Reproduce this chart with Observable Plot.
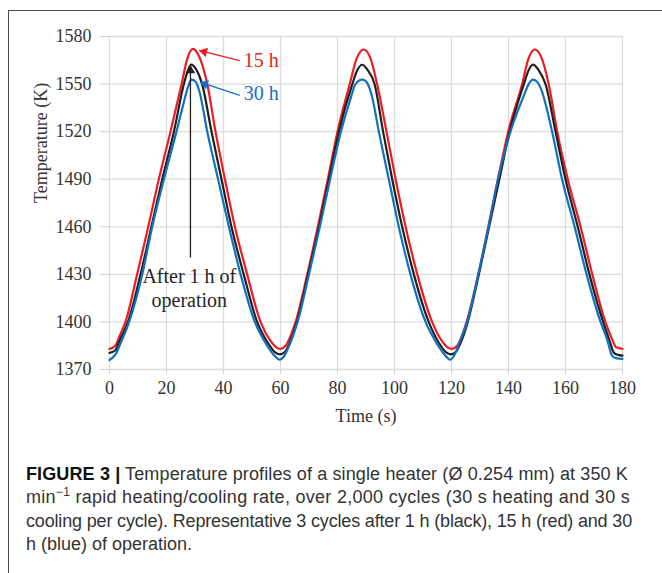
<!DOCTYPE html>
<html>
<head>
<meta charset="utf-8">
<script src="https://cdn.jsdelivr.net/npm/d3@7"></script>
<script src="https://cdn.jsdelivr.net/npm/@observablehq/plot@0.6"></script>
<style>
  html, body { margin: 0; padding: 0; background: #fff; }
  #wrap { position: relative; width: 662px; height: 573px; overflow: hidden; }
  #frame { position: absolute; left: 8px; top: 10px; width: 700px; height: 600px;
           border-top: 1.5px solid #4d4d4d; border-left: 1.5px solid #4d4d4d; }
  #chart { position: absolute; left: 0; top: 0; }
  #cap { position: absolute; left: 26px; top: 463px; font-family: "Liberation Sans", Arial, sans-serif;
         font-size: 18px; line-height: 23.3px; color: #333; white-space: nowrap; }
  #cap .ln { display: block; }
  #cap .ln span.t { display: inline-block; }
  #cap b { color: #111; }
  #cap sup { font-size: 12px; line-height: 0; vertical-align: 7px; }
</style>
</head>
<body>
<div id="wrap">
  <div id="frame"></div>
  <div id="chart"></div>
  <div id="cap">
    <div class="ln"><span class="t"><b>FIGURE 3 |</b> Temperature profiles of a single heater (Ø 0.254 mm) at 350 K</span></div>
    <div class="ln"><span class="t">min<sup>−1</sup> rapid heating/cooling rate, over 2,000 cycles (30 s heating and 30 s</span></div>
    <div class="ln"><span class="t">cooling per cycle). Representative 3 cycles after 1 h (black), 15 h (red) and 30</span></div>
    <div class="ln"><span class="t">h (blue) of operation.</span></div>
  </div>
</div>
<script>
// ---- data (time s, temperature K) ----
const xTicks = [0, 20, 40, 60, 80, 100, 120, 140, 160, 180];
const yTicks = [1370, 1400, 1430, 1460, 1490, 1520, 1550, 1580];

const series1h = [
  [0,1380.5],[2,1382],[3.5,1388],[6.5,1400],[10.9,1430],[14.7,1460],[18.5,1490],[22.6,1520],[26.1,1550],[27.5,1558.5],[28.7,1562.3],[30.5,1559],[32.5,1550],[35.8,1520],[39.3,1490],[42.8,1460],[47.1,1430],[51.8,1400],[55.5,1387],[58,1381],[59.8,1379.6],[61.5,1381],[63.5,1388],
  [65.8,1400],[69.7,1430],[73.5,1460],[77,1490],[80.5,1520],[85.2,1550],[87,1559],[88.7,1562.2],[90.5,1559],[93,1550],[96,1520],[99.2,1490],[102.7,1460],[106.8,1430],[112,1400],[115.5,1387],[118,1381],[119.8,1379.6],[121.5,1381],[123.5,1388],
  [125.7,1400],[129.6,1430],[133.2,1460],[136.8,1490],[140.4,1520],[145.4,1550],[147,1558.5],[148.6,1562.3],[150.5,1559],[153,1550],[156.5,1520],[160,1490],[164.3,1460],[168.4,1430],[173.2,1400],[175.5,1388],[177,1380.5],[178.5,1379.2],[180,1378.8]
];
const series15h = [
  [0,1383],[2,1385],[3.5,1391],[5.6,1400],[9.7,1430],[13.6,1460],[17.3,1490],[21.4,1520],[25.3,1550],[27.3,1566],[29.2,1572.2],[31.3,1568],[34.3,1550],[37.2,1520],[40.5,1490],[44,1460],[48.3,1430],[53,1400],[56.5,1388],[58.5,1384],[60,1383],[61.8,1385],[63.5,1391],
  [65.3,1400],[69.4,1430],[73.1,1460],[76.6,1490],[80,1520],[84.3,1550],[86.7,1566],[89.2,1571.8],[91.4,1567],[93.9,1550],[97.2,1520],[100.4,1490],[103.9,1460],[108,1430],[113.2,1400],[116.6,1388],[118.6,1384],[120.2,1383],[122,1385],[123.6,1391],
  [125.3,1400],[129.4,1430],[132.9,1460],[136.3,1490],[139.9,1520],[144.8,1550],[147,1566],[149.2,1571.8],[151.5,1567],[154.1,1550],[157.1,1520],[160.8,1490],[165.3,1460],[169.4,1430],[174,1400],[176.4,1389],[177.8,1384],[180,1383]
];
const series30h = [
  [0,1376],[2.3,1380],[4,1387],[6.9,1400],[11.5,1430],[15,1460],[19.1,1490],[23.5,1520],[26,1538],[27.7,1549],[28.8,1552.8],[30.2,1551.5],[31.6,1545],[34.3,1520],[38.1,1490],[41.9,1460],[46,1430],[51,1400],[55,1386],[58,1378.5],[59.6,1376.2],[61.3,1378.5],[63.5,1387],
  [66,1400],[70,1430],[73.8,1460],[77.4,1490],[81.2,1520],[84.6,1541],[86.3,1550],[88.7,1552.8],[90.3,1551],[92,1543],[94.5,1520],[98,1490],[101.5,1460],[105.6,1430],[110.9,1400],[115,1386],[118,1378.5],[119.4,1376.2],[121,1379],[123,1388],
  [125.5,1400],[129.4,1430],[133,1460],[136.3,1490],[140.7,1520],[145,1541],[147.1,1550],[148.5,1552.8],[150,1551.5],[151.4,1547],[155.3,1520],[158.8,1490],[163.2,1460],[167.4,1430],[172.3,1400],[174.6,1389],[176.4,1378.5],[178,1377],[180,1376.7]
];

// annotations (data units)
const labelNames = ["15 h", "30 h"];
const labelAt = [[47.1, 1564.8], [47.1, 1543.7]];
const arrowFrom = [[45.7, 1564.8], [45.7, 1542.8], [28.4, 1440.6]];
const arrowTo = [[31.4, 1571.2], [31.7, 1551.2], [28.4, 1562]];
const noteLines = ["After 1 h of", "operation"];
const noteAt = [[28, 1428.6], [28, 1413.5]];

const RED = "#ec1c24", BLACK = "#231f20", BLUE = "#0f72c0";
const SERIF = "'Liberation Serif', 'Times New Roman', serif";

const toRows = (arr) => arr.map(([t, k]) => ({t, k}));
const arrows = arrowFrom.map((f, i) => ({x1: f[0], y1: f[1], x2: arrowTo[i][0], y2: arrowTo[i][1],
  c: [RED, BLUE, BLACK][i]}));
const heads = arrowTo.map(([x, y]) => ({x, y}));

const chart = Plot.plot({
  width: 662,
  height: 440,
  marginLeft: 109,
  marginRight: 40,
  marginTop: 36,
  marginBottom: 71,
  style: {fontFamily: SERIF, background: "transparent", color: "#333"},
  x: {domain: [0, 180]},
  y: {domain: [1370, 1580]},
  marks: [
    Plot.ruleX(xTicks, {stroke: "#dcdcdc", strokeWidth: 1.3}),
    Plot.ruleY(yTicks, {stroke: "#dcdcdc", strokeWidth: 1.3}),
    Plot.axisX({ticks: xTicks, tickSize: 5, stroke: "#d0d0d0", tickFormat: () => "", label: null}),
    Plot.axisY({ticks: yTicks, tickSize: 9, stroke: "#d0d0d0", tickFormat: () => "", label: null}),
    Plot.text(xTicks, {x: d => d, frameAnchor: "bottom", dy: 24, text: d => String(d),
      fontSize: 18, fontFamily: SERIF, fill: "#333"}),
    Plot.text(yTicks, {y: d => d, frameAnchor: "left", dx: -18, textAnchor: "end", text: d => String(d),
      fontSize: 18, fontFamily: SERIF, fill: "#333"}),
    Plot.text(["Time (s)"], {frameAnchor: "bottom", dy: 52, fontSize: 18, fill: "#333"}),
    Plot.text(["Temperature (K)"], {frameAnchor: "left", dx: -68, rotate: -90, fontSize: 18, fill: "#333"}),
    Plot.line(toRows(series15h), {x: "t", y: "k", stroke: RED, strokeWidth: 2.2, curve: "monotone-x"}),
    Plot.line(toRows(series1h), {x: "t", y: "k", stroke: BLACK, strokeWidth: 2.2, curve: "monotone-x"}),
    Plot.line(toRows(series30h), {x: "t", y: "k", stroke: BLUE, strokeWidth: 2.2, curve: "monotone-x"}),
    Plot.link(arrows, {x1: "x1", y1: "y1", x2: "x2", y2: "y2", stroke: "c", strokeWidth: 1.3}),
    Plot.dot(heads.slice(0, 1), {x: "x", y: "y", fill: RED, symbol: "triangle", r: 3.5, rotate: -76, dx: 5.2, dy: 1.3}),
    Plot.dot(heads.slice(1, 2), {x: "x", y: "y", fill: BLUE, symbol: "triangle", r: 3.5, rotate: -72, dx: 5.1, dy: 1.7}),
    Plot.dot(heads.slice(2, 3), {x: "x", y: "y", fill: BLACK, symbol: "triangle", r: 3.5, rotate: 0, dx: 0, dy: 5.4}),
    Plot.text(labelNames, {x: (d, i) => labelAt[i][0], y: (d, i) => labelAt[i][1], text: d => d,
      fill: (d, i) => [RED, BLUE][i], textAnchor: "start", fontSize: 20}),
    Plot.text(noteLines, {x: (d, i) => noteAt[i][0], y: (d, i) => noteAt[i][1], text: d => d,
      fill: "#262626", fontSize: 20})
  ]
});
document.getElementById("chart").appendChild(chart);

// fit caption lines to the reference line widths
const capWidths = [602, 604, 606, null];
document.querySelectorAll("#cap .ln span.t").forEach((el, i) => {
  const target = capWidths[i];
  if (!target) return;
  const w = el.getBoundingClientRect().width;
  const n = el.textContent.length;
  el.style.letterSpacing = ((target - w) / n) + "px";
});
</script>
</body>
</html>
